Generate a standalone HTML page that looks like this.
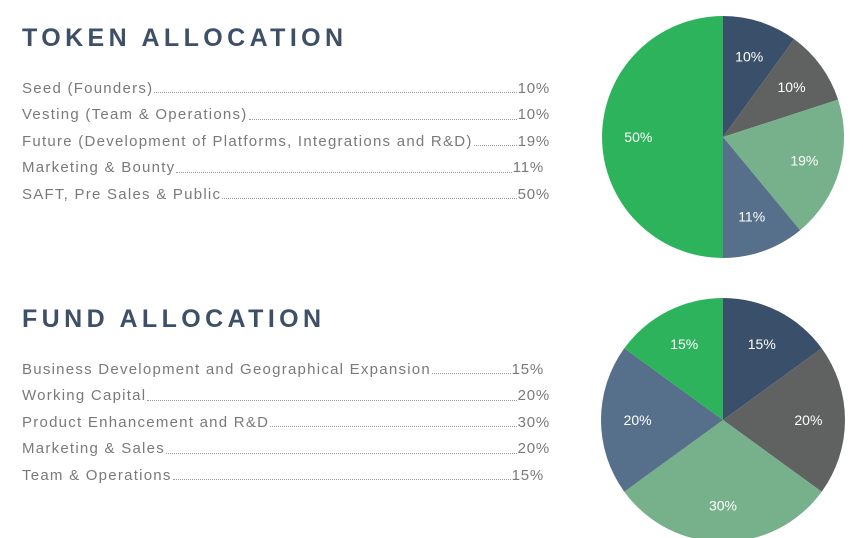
<!DOCTYPE html>
<html><head><meta charset="utf-8"><style>
body{margin:0;width:863px;height:538px;background:#fff;overflow:hidden;position:relative;font-family:"Liberation Sans",sans-serif}
.title{position:absolute;left:22px;font-size:25px;font-weight:bold;letter-spacing:4.4px;color:#3d5068}
.row{position:absolute;left:22px;height:20px;display:flex;align-items:center;font-size:15px;letter-spacing:1.25px;color:#7a7a7a;white-space:nowrap}
.lbl{flex:0 0 auto}
.dots{flex:1 1 auto;border-bottom:1.5px dotted #999;height:0;margin:9px 1px 0 1px}
.pct{flex:0 0 auto;letter-spacing:0.8px}
svg{position:absolute;left:0;top:0}
</style></head><body>
<div class="title" style="top:24px">TOKEN ALLOCATION</div>
<div class="title" style="top:305px">FUND ALLOCATION</div>
<div id="lists"></div>
<svg id="pies" width="863" height="538"></svg>
<script>
const tokenLabels=["Seed (Founders)","Vesting (Team & Operations)","Future (Development of Platforms, Integrations and R&D)","Marketing & Bounty","SAFT, Pre Sales & Public"];
const tokenValues=[10,10,19,11,50];
const fundLabels=["Business Development and Geographical Expansion","Working Capital","Product Enhancement and R&D","Marketing & Sales","Team & Operations"];
const fundValues=[15,20,30,20,15];
const colors=["#3a4f69","#606161","#76b18b","#566f8a","#2db35c"];
const lists=document.getElementById('lists');
function makeList(labels,values,top,name){
  labels.forEach((l,i)=>{
    const r=document.createElement('div');
    r.className='row';
    
    
    r.style.top=(top+i*26.5-9)+'px';
    r.style.width=(values[i]===11||(name==='fund'&&values[i]===15)?522:528)+'px';
    r.innerHTML='<span class="lbl"></span><span class="dots"></span><span class="pct"></span>';
    r.children[0].textContent=l;
    r.children[2].textContent=values[i]+'%';
    lists.appendChild(r);
  });
}
makeList(tokenLabels,tokenValues,87,'token');
makeList(fundLabels,fundValues,368,'fund');
const svg=document.getElementById('pies');
const NS='http://www.w3.org/2000/svg';
function pie(values,cx,cy,r,name){
  const tot=values.reduce((a,b)=>a+b,0);
  let a0=0;
  values.forEach((v,i)=>{
    const a1=a0+v/tot*2*Math.PI;
    const p=(a)=>[cx+r*Math.sin(a),cy-r*Math.cos(a)];
    const [x0,y0]=p(a0),[x1,y1]=p(a1);
    const path=document.createElementNS(NS,'path');
    path.setAttribute('d',`M${cx},${cy}L${x0},${y0}A${r},${r} 0 ${a1-a0>Math.PI?1:0} 1 ${x1},${y1}Z`);
    path.setAttribute('fill',colors[i]);
    
    
    svg.appendChild(path);
    const am=(a0+a1)/2, lr=r*0.7;
    const t=document.createElementNS(NS,'text');
    t.setAttribute('x',cx+lr*Math.sin(am));
    t.setAttribute('y',cy-lr*Math.cos(am)+5);
    t.setAttribute('text-anchor','middle');
    t.setAttribute('fill','#fff');
    t.setAttribute('font-size','14');
    t.setAttribute('font-family','Liberation Sans, sans-serif');
    
    
    t.textContent=v+'%';
    svg.appendChild(t);
    a0=a1;
  });
}
pie(tokenValues,723,137,121,'token-pie');
pie(fundValues,723,420,122,'fund-pie');
</script>
</body></html>
